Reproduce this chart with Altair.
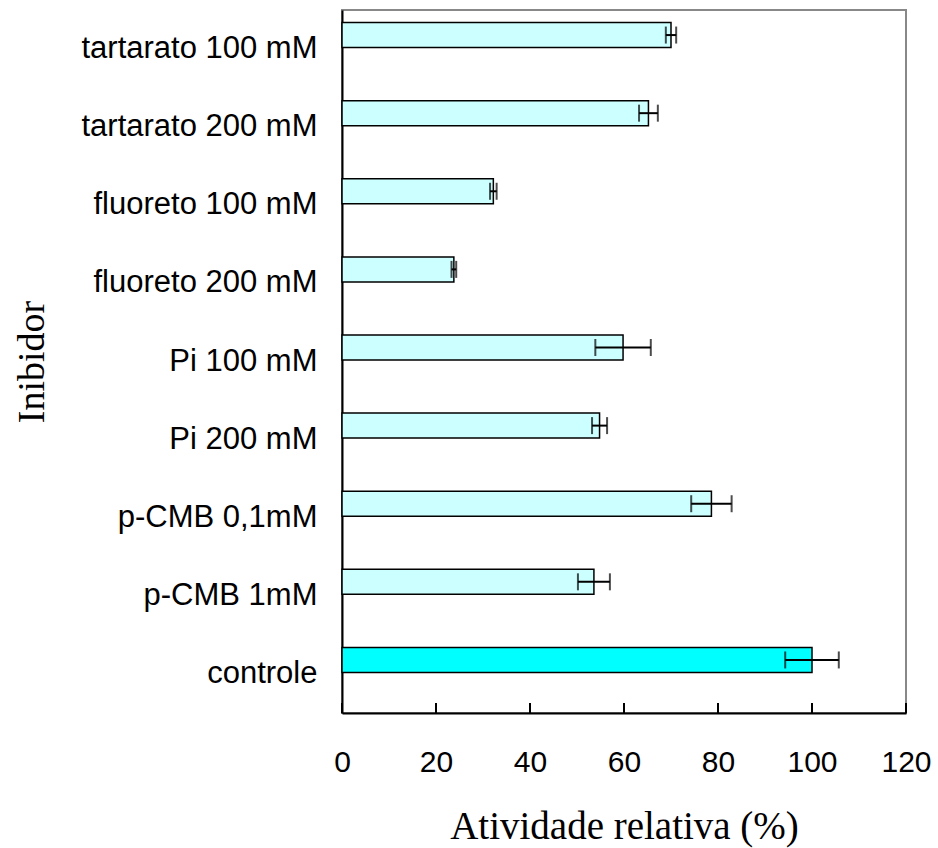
import altair as alt
import pandas as pd

# Relative enzyme activity under each inhibitor (mean and error)
inibidores = [
    "tartarato 100 mM", "tartarato 200 mM", "fluoreto 100 mM", "fluoreto 200 mM",
    "Pi 100 mM", "Pi 200 mM", "p-CMB 0,1mM", "p-CMB 1mM", "controle",
]
atividade = [70.0, 65.2, 32.2, 23.8, 59.8, 54.8, 78.6, 53.6, 100.0]
erro = [1.1, 2.0, 0.7, 0.5, 5.9, 1.6, 4.3, 3.4, 5.7]
grupo = ["inibidor"] * 8 + ["controle"]
ticks_x = [0, 20, 40, 60, 80, 100, 120]

W, H = 564, 703
OFF = -14  # bars sit slightly above the centre of their category band

df = pd.DataFrame({"inibidor": inibidores, "atividade": atividade, "erro": erro, "grupo": grupo})
df["lo"] = df["atividade"] - df["erro"]
df["hi"] = df["atividade"] + df["erro"]
df_ticks = pd.DataFrame({"t": ticks_x})

xscale = alt.Scale(domain=[0, 120], nice=False, zero=True)
yscale = alt.Scale(domain=inibidores, paddingInner=0.68, paddingOuter=0.34)

x_axis = alt.Axis(
    values=ticks_x, title="Atividade relativa (%)", grid=False, ticks=False, tickSize=0,
    labelPadding=34, labelFlush=False, labelFont="Liberation Sans", labelFontSize=30,
    labelColor="black", domainColor="black", domainWidth=2,
    titleFont="Liberation Serif", titleFontSize=39, titleFontWeight="normal",
    titleColor="black", titleBaseline="alphabetic", titleY=125,
)
y_axis = alt.Axis(
    title="Inibidor", grid=False, ticks=False, tickSize=0,
    labelPadding=25, labelLimit=0, labelFont="Liberation Sans", labelFontSize=31,
    labelColor="black", domainColor="black", domainWidth=2,
    titleFont="Liberation Serif", titleFontSize=38, titleFontWeight="normal",
    titleColor="black", titleAngle=270, titleBaseline="alphabetic",
    titleX=-299, titleY=H / 2,
)

base = alt.Chart(df)

bars = base.mark_bar(stroke="black", strokeWidth=1.5, yOffset=OFF).encode(
    x=alt.X("atividade:Q", scale=xscale, axis=x_axis),
    y=alt.Y("inibidor:N", scale=yscale, axis=y_axis, sort=inibidores),
    color=alt.Color("grupo:N", scale=alt.Scale(domain=["inibidor", "controle"],
                                               range=["#CCFFFF", "#00FFFF"]), legend=None),
)

err_line = base.mark_rule(color="black", strokeWidth=2, yOffset=OFF).encode(
    x=alt.X("lo:Q", scale=xscale),
    x2="hi:Q",
    y=alt.Y("inibidor:N", scale=yscale, sort=inibidores),
)

cap_lo = base.mark_tick(orient="vertical", size=17, thickness=2, color="black", yOffset=OFF).encode(
    x=alt.X("lo:Q", scale=xscale),
    y=alt.Y("inibidor:N", scale=yscale, sort=inibidores),
)
cap_hi = base.mark_tick(orient="vertical", size=17, thickness=2, color="black", yOffset=OFF).encode(
    x=alt.X("hi:Q", scale=xscale),
    y=alt.Y("inibidor:N", scale=yscale, sort=inibidores),
)

# inward tick marks on the value axis
axis_ticks = alt.Chart(df_ticks).mark_rule(color="black", strokeWidth=2).encode(
    x=alt.X("t:Q", scale=xscale),
    y=alt.value(H - 10),
    y2=alt.value(H),
)

chart = (
    alt.layer(bars, err_line, cap_lo, cap_hi, axis_ticks)
    .properties(
        width=W, height=H,
        autosize=alt.AutoSizeParams(type="none"),
        padding={"left": 342, "top": 10, "right": 32, "bottom": 135},
        background="white",
    )
    .configure_view(stroke="#888888", strokeWidth=2)
)

chart.save("out.html", embed_options={"renderer": "svg", "actions": False})
